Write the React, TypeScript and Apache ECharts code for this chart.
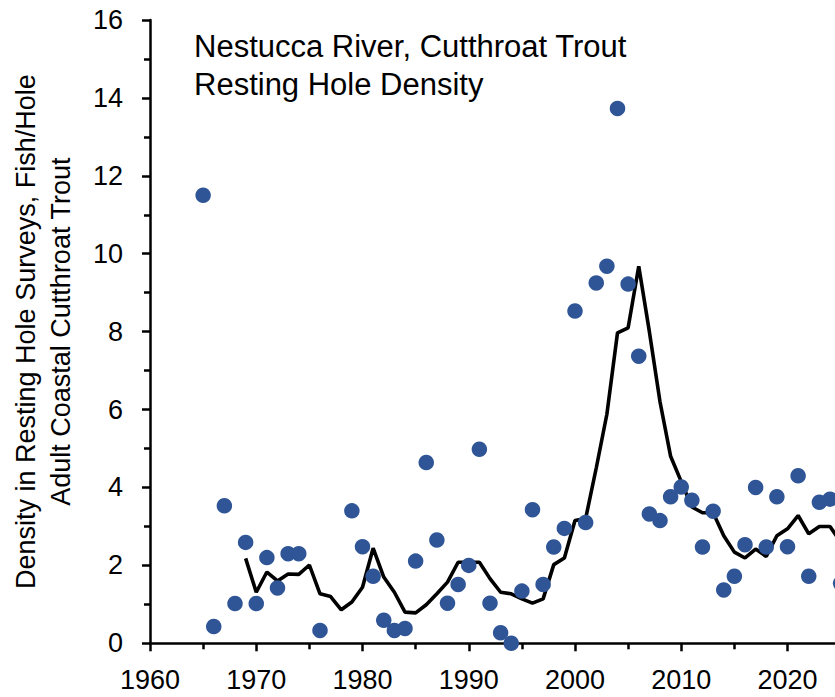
import React, { useEffect, useRef } from "react";
import * as echarts from "echarts";

const titleLines = ["Nestucca River, Cutthroat Trout", "Resting Hole Density"];
const yTitleLines = ["Density in Resting Hole Surveys, Fish/Hole", "Adult Coastal Cutthroat Trout"];

const dotYears = [
  1965, 1966, 1967, 1968, 1969, 1970, 1971, 1972, 1973, 1974, 1976, 1979, 1980, 1981, 1982, 1983, 1984,
  1985, 1986, 1987, 1988, 1989, 1990, 1991, 1992, 1993, 1994, 1995, 1996, 1997, 1998, 1999, 2000, 2001,
  2002, 2003, 2004, 2005, 2006, 2007, 2008, 2009, 2010, 2011, 2012, 2013, 2014, 2015, 2016, 2017, 2018,
  2019, 2020, 2021, 2022, 2023, 2024, 2025,
];
const dotValues = [
  11.5, 0.43, 3.53, 1.02, 2.59, 1.02, 2.2, 1.42, 2.3, 2.3, 0.33, 3.4, 2.48, 1.72, 0.59, 0.33, 0.38,
  2.11, 4.64, 2.65, 1.03, 1.51, 2.0, 4.98, 1.03, 0.27, 0.0, 1.34, 3.43, 1.51, 2.47, 2.95, 8.53, 3.1,
  9.25, 9.68, 13.73, 9.22, 7.37, 3.32, 3.15, 3.76, 4.01, 3.67, 2.47, 3.39, 1.37, 1.72, 2.53, 4.0, 2.47,
  3.76, 2.48, 4.3, 1.72, 3.62, 3.7, 1.54,
];

const lineYears = [
  1969, 1970, 1971, 1972, 1973, 1974, 1975, 1976, 1977, 1978, 1979, 1980, 1981, 1982, 1983, 1984, 1985,
  1986, 1987, 1988, 1989, 1990, 1991, 1992, 1993, 1994, 1995, 1996, 1997, 1998, 1999, 2000, 2001, 2002,
  2003, 2004, 2005, 2006, 2007, 2008, 2009, 2010, 2011, 2012, 2013, 2014, 2015, 2016, 2017, 2018, 2019,
  2020, 2021, 2022, 2023, 2024, 2025,
];
const lineValues = [
  2.18, 1.31, 1.83, 1.6, 1.78, 1.77, 2.01, 1.27, 1.2, 0.86, 1.06, 1.44, 2.44, 1.7, 1.31, 0.8, 0.78,
  0.99, 1.27, 1.57, 2.08, 2.08, 2.08, 1.66, 1.31, 1.27, 1.14, 1.03, 1.14, 2.02, 2.19, 3.15, 3.2, 4.5,
  5.88, 7.97, 8.1, 9.68, 8.0, 6.2, 4.8, 4.15, 3.5, 3.35, 3.35, 2.76, 2.34, 2.19, 2.42, 2.23, 2.76,
  2.94, 3.28, 2.81, 3.0, 3.0, 2.6,
];

const FONT = "'Liberation Sans', Arial, sans-serif";

export default function App() {
  const ref = useRef<HTMLDivElement>(null);

  useEffect(() => {
    if (!ref.current) return;
    const chart = echarts.init(ref.current, null, { renderer: "svg" });
    const dots = dotYears.map((y, i) => [y, dotValues[i]]);
    const line = lineYears.map((y, i) => [y, lineValues[i]]);
    chart.setOption({
      animation: false,
      backgroundColor: "#ffffff",
      title: {
        text: titleLines.join("\n"),
        left: 194,
        top: 27,
        padding: 0,
        textStyle: {
          fontFamily: FONT,
          fontSize: 31,
          fontWeight: "normal",
          lineHeight: 38.5,
          color: "#000",
        },
      },
      grid: { left: 150, top: 20, width: 743.75, height: 623.3 },
      xAxis: {
        type: "value",
        min: 1960,
        max: 2030,
        interval: 10,
        axisLine: { show: true, lineStyle: { color: "#000", width: 2.5 } },
        axisTick: { show: true, length: 8, lineStyle: { color: "#000", width: 2.5 } },
        minorTick: { show: true, splitNumber: 2, length: 6, lineStyle: { color: "#000", width: 2.5 } },
        splitLine: { show: false },
        axisLabel: {
          margin: 23,
          fontFamily: FONT,
          fontSize: 27,
          color: "#000",
          showMaxLabel: false,
          formatter: (v: number) => (v > 2020 ? "" : String(v)),
        },
      },
      yAxis: {
        type: "value",
        min: 0,
        max: 16,
        interval: 2,
        name: yTitleLines.join("\n"),
        nameLocation: "middle",
        nameRotate: 90,
        nameGap: 72,
        nameTextStyle: { fontFamily: FONT, fontSize: 27, lineHeight: 35, color: "#000" },
        axisLine: { show: true, lineStyle: { color: "#000", width: 2.5 } },
        axisTick: { show: true, length: 8, lineStyle: { color: "#000", width: 2.5 } },
        minorTick: { show: true, splitNumber: 2, length: 6, lineStyle: { color: "#000", width: 2.5 } },
        splitLine: { show: false },
        axisLabel: { margin: 27, fontFamily: FONT, fontSize: 27, color: "#000" },
      },
      series: [
        {
          type: "line",
          data: line,
          showSymbol: false,
          symbol: "none",
          lineStyle: { color: "#000", width: 3.6 },
          z: 2,
        },
        {
          type: "scatter",
          data: dots,
          symbol: "circle",
          symbolSize: 15.5,
          itemStyle: { color: "#2F5597", opacity: 1 },
          z: 3,
        },
      ],
    });
    return () => chart.dispose();
  }, []);

  return (
    <div style={{ position: "fixed", left: 0, top: 0, width: 835, height: 697, overflow: "hidden", background: "#fff" }}>
      <div ref={ref} style={{ width: 1000, height: 697 }} />
    </div>
  );
}
